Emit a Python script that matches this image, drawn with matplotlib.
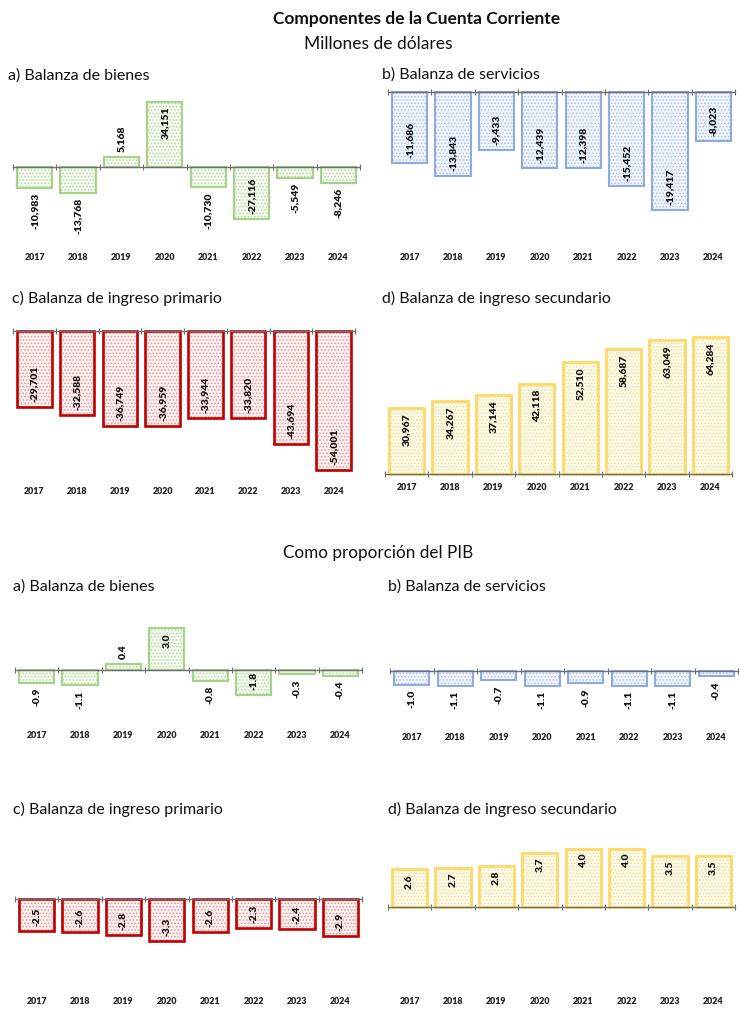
import numpy as np
import matplotlib
matplotlib.use("Agg")
import matplotlib.pyplot as plt
from matplotlib.transforms import blended_transform_factory

plt.rcParams['font.family'] = ['Lato', 'DejaVu Sans']
plt.rcParams['hatch.linewidth'] = 0.7

# ---------------- data ----------------
years = ['2017', '2018', '2019', '2020', '2021', '2022', '2023', '2024']

md_bienes = [-10983, -13768, 5168, 34151, -10730, -27116, -5549, -8246]
md_servicios = [-11686, -13843, -9433, -12439, -12398, -15452, -19417, -8023]
md_primario = [-29701, -32588, -36749, -36959, -33944, -33820, -43694, -54001]
md_secundario = [30967, 34267, 37144, 42118, 52510, 58687, 63049, 64284]

pib_bienes = [-0.9, -1.1, 0.4, 3.0, -0.8, -1.8, -0.3, -0.4]
pib_servicios = [-1.0, -1.1, -0.7, -1.1, -0.9, -1.1, -1.1, -0.4]
pib_primario = [-2.5, -2.6, -2.8, -3.3, -2.6, -2.3, -2.4, -2.9]
pib_secundario = [2.6, 2.7, 2.8, 3.7, 4.0, 4.0, 3.5, 3.5]

titles = ['a) Balanza de bienes', 'b) Balanza de servicios',
          'c) Balanza de ingreso primario', 'd) Balanza de ingreso secundario']

# ---------------- styles ----------------
STY = {
    'green': dict(face='#f3f9ee', dot='#bddaa8', edge='#a9d18e', lw=1.6),
    'blue': dict(face='#f0f4fb', dot='#b0c4e6', edge='#8faadc', lw=1.5),
    'red': dict(face='#fcf0f0', dot='#e09a9a', edge='#c00000', lw=1.9),
    'yellow': dict(face='#fffcec', dot='#f0dc92', edge='#ffd966', lw=2.0),
}

W, H = 750, 1017
fig = plt.figure(figsize=(W / 100, H / 100), dpi=100)
fig.patch.set_facecolor('white')
renderer = fig.canvas.get_renderer()

fig.text(417 / W, 1 - 19 / H, 'Componentes de la Cuenta Corriente', ha='center', va='center',
         fontsize=12.5, fontweight='bold', color='#111111')
fig.text(378 / W, 1 - 44 / H, 'Millones de dólares', ha='center', va='center',
         fontsize=12.5, color='#111111')
fig.text(378 / W, 1 - 553 / H, 'Como proporción del PIB', ha='center', va='center',
         fontsize=12.3, color='#111111')


def panel(values, fmt, style, left, right, zero, ppu, top, bottom, year_y,
          title, tx, ty):
    st = STY[style]
    ax = fig.add_axes([left / W, 1 - bottom / H, (right - left) / W, (bottom - top) / H])
    ax.set_facecolor('none')
    ax.set_xlim(-0.5, 7.5)
    ax.set_ylim(-(bottom - zero) / ppu, (zero - top) / ppu)
    x = np.arange(len(values))
    ax.bar(x, values, width=0.81, color=st['face'], edgecolor=st['dot'],
           hatch='.....', linewidth=0, zorder=2)
    ax.bar(x, values, width=0.81, fill=False, edgecolor=st['edge'],
           linewidth=st['lw'], zorder=3)
    for s in ['top', 'left', 'right']:
        ax.spines[s].set_visible(False)
    ax.spines['bottom'].set_position(('data', 0))
    ax.spines['bottom'].set_color('#6f6f6f')
    ax.spines['bottom'].set_linewidth(1.0)
    ax.spines['bottom'].set_zorder(4)
    ax.set_yticks([])
    ax.set_xticks(np.arange(-0.5, 8, 1))
    ax.set_xticklabels([])
    ax.tick_params(axis='x', direction='inout', length=4, width=0.8, color='#6f6f6f')
    tr = blended_transform_factory(ax.transData, ax.transAxes)
    yf = (bottom - year_y) / (bottom - top)
    for i, yr in enumerate(years):
        ax.text(i, yf, yr, transform=tr, ha='center', va='center', fontsize=6.4,
                fontweight='heavy', color='#222222')
    gap = 5
    for i, v in enumerate(values):
        lbl = fmt(v)
        t = ax.annotate(lbl, xy=(i, v), xytext=(0, 0), textcoords='offset pixels',
                        rotation=90, ha='center', va='center', fontsize=7.5,
                        fontweight='heavy', color='#111111', zorder=5)
        L = t.get_window_extent(renderer).height
        bar_px = abs(ax.transData.transform((0, v))[1] - ax.transData.transform((0, 0))[1])
        inside = bar_px >= L + 6
        if v < 0:
            off, va = (gap, 'bottom') if inside else (-gap, 'top')
        else:
            off, va = (-gap, 'top') if inside else (gap, 'bottom')
        t.xyann = (0, off)
        t.set_va(va)
    fig.text(tx / W, 1 - ty / H, title, ha='left', va='center', fontsize=11.5,
             color='#111111')
    return ax


fm = lambda v: f'{v:,.0f}'
fp = lambda v: f'{v:.1f}'

# Millones de dólares
panel(md_bienes, fm, 'green', 13, 360, 167, 1.91 / 1000, 90, 268, 257, titles[0], 8, 76)
panel(md_servicios, fm, 'blue', 388, 735, 92, 6.1 / 1000, 85, 268, 258, titles[1], 382, 75)
panel(md_primario, fm, 'red', 13, 355, 331, 2.575 / 1000, 318, 502, 492, titles[2], 12, 298)
panel(md_secundario, fm, 'yellow', 385, 732, 474, 2.125 / 1000, 318, 502, 488, titles[3], 382, 298)

# Como proporción del PIB
panel(pib_bienes, fp, 'green', 15, 362, 670, 14.0, 600, 748, 736, titles[0], 13, 587)
panel(pib_servicios, fp, 'blue', 390, 738, 671, 13.5, 600, 748, 737, titles[1], 388, 587)
panel(pib_primario, fp, 'red', 15, 362, 899, 12.7, 830, 1012, 1001, titles[2], 13, 809)
panel(pib_secundario, fp, 'yellow', 388, 735, 907, 14.6, 830, 1012, 1001, titles[3], 388, 809)

fig.savefig('out.png', dpi=100, facecolor='white')
